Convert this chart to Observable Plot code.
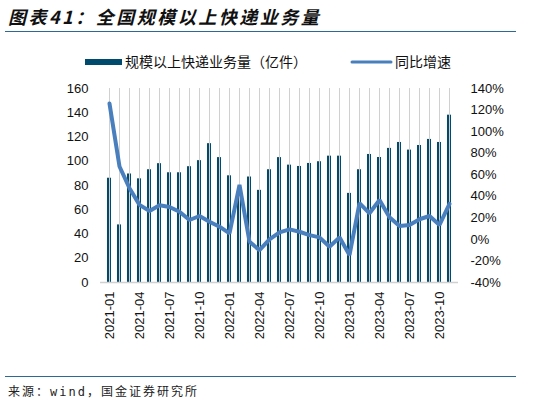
<!DOCTYPE html>
<html>
<head>
<meta charset="utf-8">
<script src="https://cdn.jsdelivr.net/npm/d3@7"></script>
<script src="https://cdn.jsdelivr.net/npm/@observablehq/plot@0.6"></script>
<style>
  body { margin: 0; background: #fff; font-family: "Liberation Sans", Arial, sans-serif; }
  #wrap { position: relative; width: 541px; height: 406px; overflow: hidden; }
  #title { position: absolute; left: 8px; top: 3px; font-family: "Noto Sans CJK SC", sans-serif; font-size: 18px; font-weight: bold; font-style: italic; letter-spacing: 2.5px; color: #111; }
  #rule1 { position: absolute; left: 5px; width: 511px; top: 31px; height: 0; border-top: 1.5px solid #2a6a94; }
  #legend { position: absolute; top: 51px; left: 0; width: 541px; height: 22px; font-size: 14px; font-family: "Noto Sans CJK SC", sans-serif; color: #111; }
  #legend span { position: absolute; top: 0; white-space: nowrap; }
  #chart { position: absolute; left: 0; top: 72px; }
  #rule2 { position: absolute; left: 5px; width: 511px; top: 376px; height: 0; border-top: 1.5px solid #2a6a94; }
  #source { position: absolute; left: 8px; top: 382px; font-size: 12px; letter-spacing: 2px; font-family: "DejaVu Sans Mono", "Noto Sans CJK SC", monospace; color: #222; }
</style>
</head>
<body>
<div id="wrap">
  <div id="title">图表41：全国规模以上快递业务量</div>
  <div id="rule1"></div>
  <div id="legend">
    <svg width="541" height="22" style="position:absolute;left:0;top:0">
      <rect x="85" y="8" width="37" height="6" fill="#004a6e"></rect>
      <line x1="352" x2="391" y1="11" y2="11" stroke="#4a7fbd" stroke-width="3" stroke-linecap="round"></line>
    </svg>
    <span style="left:125px">规模以上快递业务量（亿件）</span>
    <span style="left:395px">同比增速</span>
  </div>
  <div id="chart"></div>
  <div id="rule2"></div>
  <div id="source">来源：wind，国金证券研究所</div>
</div>
<script>
const months = [
  "2021-01","2021-02","2021-03","2021-04","2021-05","2021-06","2021-07","2021-08","2021-09","2021-10","2021-11","2021-12",
  "2022-01","2022-02","2022-03","2022-04","2022-05","2022-06","2022-07","2022-08","2022-09","2022-10","2022-11","2022-12",
  "2023-01","2023-02","2023-03","2023-04","2023-05","2023-06","2023-07","2023-08","2023-09","2023-10","2023-11"
];
// 规模以上快递业务量（亿件）
const volume = [
  86, 47.5, 89.5, 85.5, 93, 98, 90.5, 90.5, 95.5, 100.5, 114.5, 103,
  88, 72, 87, 76, 93, 103, 96.8, 95.7, 98.2, 99.6, 104.2, 104.2,
  73.5, 93, 105.6, 103.1, 110.6, 115.5, 109.2, 113, 118, 115.5, 138
];
// 同比增速（%）
const growth = [
  126, 67.6, 47.5, 32, 26.4, 31.7, 30.1, 25.7, 18, 21.7, 16.4, 11.8,
  5.6, 50.6, -2.2, -10, 0, 6.5, 9.3, 7.1, 4, 1.9, -6.8, 1.9,
  -14.6, 33.6, 24.2, 36.6, 20.5, 12.4, 13.4, 18.7, 21.7, 13.4, 32.9
];
const leftTicks = [0, 20, 40, 60, 80, 100, 120, 140, 160];
const rightTicks = [-40, -20, 0, 20, 40, 60, 80, 100, 120, 140];
const xTicks = months.filter((m, i) => i % 3 === 0);

// right axis -40..140 mapped onto left axis 0..160
const toLeft = v => (v + 40) * 160 / 180;

const data = months.map((m, i) => ({month: m, volume: volume[i], growth: growth[i]}));

const chart = Plot.plot({
  width: 541,
  height: 288,
  marginTop: 16,
  marginBottom: 78,
  marginLeft: 104,
  marginRight: 87,
  style: { fontFamily: "Liberation Sans, Arial, sans-serif", fontSize: "13px", color: "#111", background: "transparent" },
  x: { type: "band", domain: months, padding: 0.58, paddingOuter: 0, align: 0.5 },
  y: { domain: [0, 160] },
  marks: [
    Plot.barY(data, { x: "month", y: "volume", fill: "#004a6e" }),
    Plot.ruleY([0], { stroke: "#d0d0d0", strokeWidth: 1.5, insetLeft: -4, insetRight: -4 }),
    Plot.tickX(months, { x: d => d, y1: 0, y2: -2.5, stroke: "#d0d0d0" }),
    Plot.line(data, { x: "month", y: d => toLeft(d.growth), stroke: "#4a7fbd", strokeWidth: 4, strokeLinejoin: "miter", curve: "linear" }),
    Plot.axisY(leftTicks, { anchor: "left", tickSize: 0, tickPadding: 16, fontSize: 13, label: null }),
    Plot.axisY(rightTicks.map(toLeft), { anchor: "right", tickSize: 0, tickPadding: 16, fontSize: 13, label: null,
      tickFormat: v => Math.round(v * 180 / 160 - 40) + "%" }),
    Plot.axisX(xTicks, { anchor: "bottom", tickSize: 0, tickPadding: 9, tickRotate: -90, fontSize: 13, label: null })
  ]
});

document.getElementById("chart").append(chart);
</script>
</body>
</html>
